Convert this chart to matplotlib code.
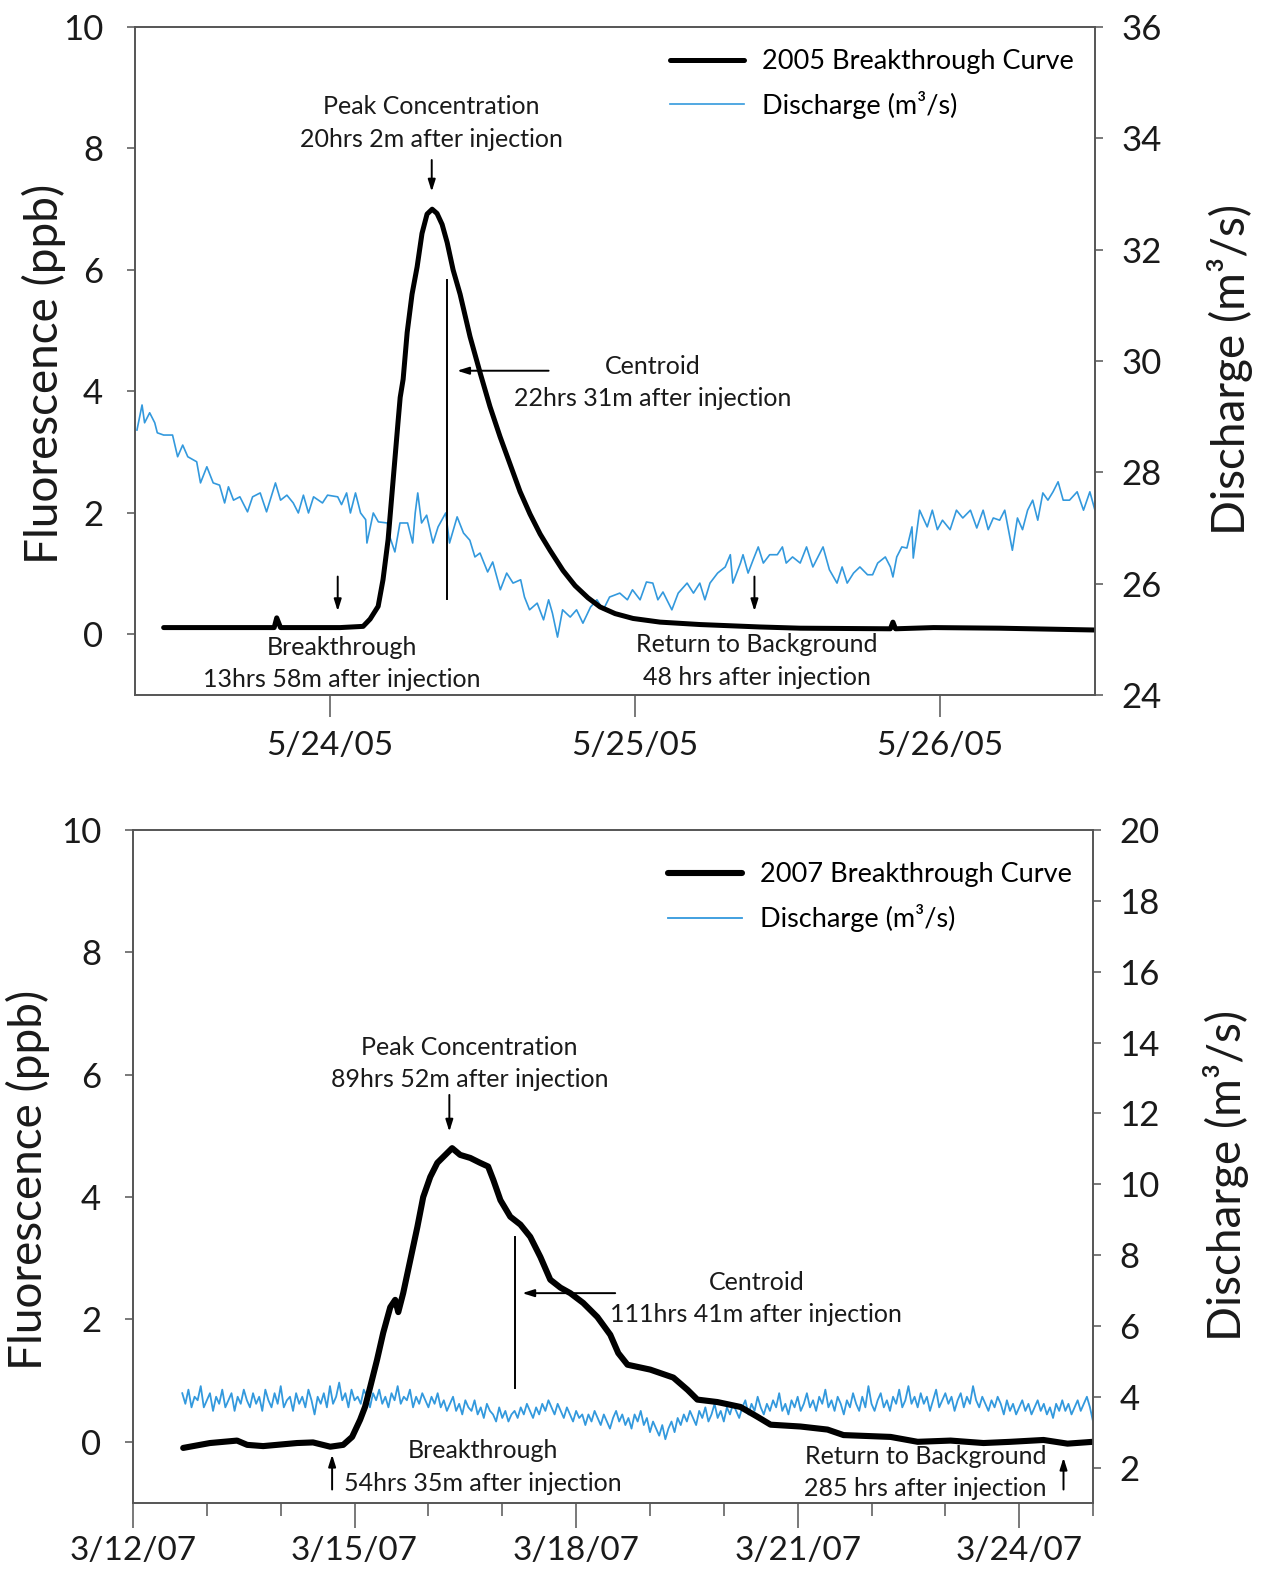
import numpy as np
import matplotlib
matplotlib.use("Agg")
import matplotlib.pyplot as plt

plt.rcParams['font.family'] = ['Lato', 'DejaVu Sans']

# ---------------- 2005 test (hours after 5/23/05 00:00) ----------------
bt05_hours = [10.9, 17.7, 19.6, 19.8, 20.1, 21.6, 24.8, 26.6, 27.15, 27.78, 28.17, 28.57,
              28.96, 29.35, 29.51, 29.75, 30.06, 30.45, 30.85, 31.24, 31.63, 32.03, 32.42,
              32.82, 33.21, 33.68, 34.23, 35.02, 35.81, 36.59, 37.38, 38.17, 38.95, 39.74,
              40.53, 41.32, 42.34, 43.28, 44.30, 45.25, 46.43, 47.85, 49.97, 53.12, 57.84,
              60.99, 68.1, 68.3, 68.5, 71.5, 76.7, 84.2]
bt05_ppb = [0.11, 0.11, 0.11, 0.27, 0.11, 0.11, 0.11, 0.13, 0.25, 0.46, 0.9, 1.56,
            2.55, 3.5, 3.9, 4.2, 4.97, 5.6, 6.05, 6.6, 6.92, 7.0, 6.93,
            6.75, 6.45, 6.0, 5.6, 4.9, 4.3, 3.75, 3.25, 2.8, 2.35, 1.98,
            1.65, 1.38, 1.05, 0.8, 0.6, 0.45, 0.34, 0.26, 0.2, 0.16, 0.12,
            0.1, 0.09, 0.2, 0.09, 0.11, 0.1, 0.07]

q05_hours = [8.8, 9.2, 9.4, 9.8, 10.2, 10.4, 10.9, 11.6, 12.0, 12.4, 12.8, 13.5,
             13.8, 14.3, 14.8, 15.3, 15.7, 16.0, 16.4, 16.9, 17.5, 17.9, 18.5, 19.0,
             19.7, 20.1, 20.6, 21.1, 21.5, 21.9, 22.3, 22.7, 23.4, 23.8, 24.6, 24.9,
             25.3, 25.6, 26.0, 26.4, 26.8, 26.9, 27.4, 27.8, 28.5, 28.7, 29.1, 29.5,
             30.1, 30.5, 30.7, 30.9, 31.2, 31.6, 32.1, 32.5, 33.1, 33.4, 34.0, 34.5,
             35.0, 35.4, 35.8, 36.4, 36.8, 37.4, 37.9, 38.4, 39.0, 39.3, 39.7, 40.3,
             40.8, 41.2, 41.5, 41.9, 42.3, 42.9, 43.4, 43.9, 44.5, 45.0, 45.5, 46.0,
             46.8, 47.4, 47.8, 48.4, 48.9, 49.4, 49.8, 50.2, 50.9, 51.4, 52.1, 52.6,
             53.1, 53.5, 53.9, 54.5, 55.1, 55.5, 55.7, 56.3, 56.5, 56.9, 57.3, 57.7,
             58.1, 58.6, 59.2, 59.6, 59.9, 60.4, 61.0, 61.5, 62.0, 62.8, 63.3, 63.9,
             64.3, 64.7, 65.2, 65.7, 66.3, 66.7, 67.1, 67.7, 68.1, 68.3, 68.6, 69.0,
             69.4, 69.8, 69.9, 70.4, 71.0, 71.4, 71.8, 72.2, 72.8, 73.3, 73.8, 74.4,
             74.9, 75.4, 75.8, 76.2, 76.7, 77.1, 77.7, 78.1, 78.5, 78.9, 79.3, 79.7,
             80.1, 80.5, 80.9, 81.3, 81.7, 82.2, 82.8, 83.3, 83.8, 84.2]
q05_cms = [28.76, 29.21, 28.89, 29.07, 28.89, 28.71, 28.67, 28.67, 28.28, 28.49, 28.28, 28.19,
           27.81, 28.10, 27.81, 27.77, 27.45, 27.74, 27.50, 27.56, 27.29, 27.56, 27.63, 27.29,
           27.81, 27.50, 27.59, 27.45, 27.27, 27.59, 27.27, 27.56, 27.45, 27.59, 27.56, 27.42,
           27.63, 27.27, 27.63, 27.27, 27.15, 26.73, 27.27, 27.11, 27.09, 26.84, 26.57, 27.09,
           27.09, 26.73, 27.27, 27.63, 27.09, 27.23, 26.73, 27.02, 27.27, 26.73, 27.20, 26.91,
           26.78, 26.48, 26.55, 26.21, 26.39, 25.89, 26.19, 26.01, 26.07, 25.76, 25.53, 25.65,
           25.35, 25.71, 25.47, 25.04, 25.53, 25.40, 25.53, 25.29, 25.58, 25.71, 25.53, 25.76,
           25.83, 25.71, 25.89, 25.71, 26.03, 26.01, 25.71, 25.85, 25.53, 25.83, 26.01, 25.83,
           26.01, 25.71, 26.01, 26.19, 26.30, 26.52, 26.01, 26.37, 26.52, 26.19, 26.43, 26.66,
           26.37, 26.52, 26.52, 26.66, 26.37, 26.48, 26.37, 26.66, 26.30, 26.66, 26.25, 26.01,
           26.30, 26.01, 26.19, 26.30, 26.16, 26.16, 26.37, 26.48, 26.30, 26.12, 26.48, 26.66,
           26.64, 27.02, 26.46, 27.32, 27.02, 27.32, 26.97, 27.14, 26.97, 27.32, 27.18, 27.32,
           27.00, 27.32, 26.97, 27.18, 27.14, 27.32, 26.60, 27.18, 26.97, 27.32, 27.50, 27.14,
           27.63, 27.50, 27.65, 27.83, 27.50, 27.50, 27.65, 27.32, 27.65, 27.32]

xlabels05 = ['5/24/05', '5/25/05', '5/26/05']

# ---------------- 2007 test (hours after 3/12/07 00:00) ----------------
bt07_hours = [16.3, 25.0, 33.8, 37.1, 42.3, 53.3, 58.5, 64.1, 68.3, 71.2, 73.8, 75.4,
              77.1, 79.3, 81.3, 83.6, 85.2, 86.2, 87.8, 90.1, 92.4, 94.3, 96.6, 98.9,
              101.5, 103.7, 106.3, 109.6, 112.8, 115.4, 117.1, 119.4, 122.6, 125.9, 129.1, 132.4,
              135.6, 138.9, 142.1, 146.3, 150.9, 155.1, 157.7, 160.7, 168.1, 175.6, 180.2, 183.4,
              189.9, 197.4, 202.9, 207.2, 216.9, 225.7, 230.9, 246.2, 255.0, 265.7, 276.4, 285.2,
              295.9, 303.7, 312.0]
bt07_ppb = [-0.1, -0.02, 0.02, -0.05, -0.07, -0.02, -0.01, -0.08, -0.05, 0.08, 0.36, 0.57,
            0.9, 1.34, 1.78, 2.2, 2.32, 2.12, 2.43, 2.97, 3.51, 4.0, 4.33, 4.56,
            4.69, 4.8, 4.69, 4.64, 4.56, 4.5, 4.28, 3.95, 3.68, 3.55, 3.35, 3.02,
            2.65, 2.52, 2.43, 2.27, 2.04, 1.75, 1.45, 1.26, 1.18, 1.05, 0.85, 0.69,
            0.65, 0.57, 0.41, 0.28, 0.25, 0.2, 0.11, 0.08, 0.0, 0.02, -0.02, 0.0,
            0.03, -0.03, 0.0]

q07_start_hour = 16   # hourly readings from 3/12/07 16:00
q07_cms = [4.1, 3.8, 4.2, 3.7, 4.0, 3.9, 4.3, 3.7, 3.9, 4.1, 3.6, 4.0,
           3.8, 4.2, 3.7, 3.9, 4.1, 3.6, 4.0, 3.8, 4.2, 3.9, 3.7, 4.1,
           3.8, 4.0, 3.6, 4.2, 3.9, 3.7, 4.1, 3.8, 4.3, 3.7, 3.9, 4.0,
           3.6, 4.1, 3.8, 4.0, 3.7, 4.2, 3.9, 3.5, 4.0, 3.8, 4.1, 3.7,
           4.3, 3.8, 4.0, 4.4, 3.9, 4.1, 3.7, 4.2, 3.9, 4.0, 3.8, 4.2,
           4.0, 3.7, 4.1, 3.9, 4.2, 3.8, 4.0, 3.7, 4.1, 3.9, 4.3, 3.8,
           4.0, 3.9, 4.2, 3.7, 4.0, 3.8, 4.1, 3.9, 3.7, 4.0, 3.8, 4.1,
           3.7, 3.9, 3.6, 3.8, 4.0, 3.6, 3.8, 3.5, 3.9, 3.7, 3.6, 3.9,
           3.5, 3.7, 3.4, 3.8, 3.6, 3.5, 3.3, 3.7, 3.4, 3.6, 3.3, 3.5,
           3.6, 3.4, 3.7, 3.5, 3.8, 3.6, 3.4, 3.7, 3.5, 3.8, 3.6, 3.9,
           3.7, 3.5, 3.8, 3.6, 3.4, 3.7, 3.5, 3.3, 3.6, 3.4, 3.5, 3.2,
           3.5, 3.3, 3.6, 3.4, 3.2, 3.5, 3.3, 3.1, 3.4, 3.6, 3.3, 3.5,
           3.2, 3.4, 3.1, 3.5, 3.3, 3.6, 3.2, 3.4, 3.0, 3.3, 3.1, 2.9,
           3.2, 2.8, 3.1, 3.3, 3.0, 3.4, 3.2, 3.5, 3.3, 3.6, 3.4, 3.2,
           3.6, 3.4, 3.7, 3.3, 3.5, 3.8, 3.4, 3.6, 3.3, 3.7, 3.5, 3.8,
           3.6, 3.4, 3.7, 3.9, 3.5, 3.8, 3.6, 4.0, 3.7, 3.5, 3.8, 3.6,
           3.9, 3.7, 4.1, 3.6, 3.8, 3.5, 3.9, 3.7, 4.0, 3.6, 3.8, 4.1,
           3.7, 3.9, 3.6, 4.0, 3.8, 4.2, 3.7, 3.9, 3.6, 4.0, 3.8, 3.5,
           3.9, 3.7, 4.1, 3.8, 3.6, 4.0, 3.7, 4.3, 3.8, 3.6, 3.9, 4.1,
           3.7, 3.9, 3.6, 4.0, 3.8, 4.2, 3.7, 3.9, 4.3, 3.8, 4.0, 3.7,
           4.1, 3.8, 4.0, 3.6, 3.9, 4.2, 3.7, 3.9, 4.1, 3.8, 4.0, 3.6,
           3.9, 4.1, 3.7, 4.0, 3.8, 4.3, 3.9, 3.7, 4.0, 3.8, 3.6, 3.9,
           3.7, 4.0, 3.8, 3.5, 3.9, 3.6, 3.8, 3.5, 3.7, 3.9, 3.6, 3.8,
           3.5, 3.7, 3.9, 3.6, 3.8, 3.5, 3.7, 3.4, 3.8, 3.6, 3.9, 3.6,
           3.8, 3.5, 3.7, 3.9, 3.6, 3.8, 4.0, 3.7, 3.3]

xlabels07 = ['3/12/07', '3/15/07', '3/18/07', '3/21/07', '3/24/07']

BLUE = '#3399dd'
TXT = '#1a1a1a'
SPINE = '#555555'
FS = 18


def to_dates(base, hours):
    mins = np.round(np.asarray(hours, dtype=float) * 60).astype(int)
    return np.datetime64(base) + mins.astype('timedelta64[m]')


def t(base, h):
    return to_dates(base, [h])[0]


def style_axes(ax, ax2):
    for a in (ax, ax2):
        for s in a.spines.values():
            s.set_color(SPINE)
            s.set_linewidth(1.2)
    ax.tick_params(axis='y', direction='out', length=6, width=1.1, color=SPINE,
                   labelsize=25, pad=17, labelcolor=TXT)
    ax2.tick_params(axis='y', direction='out', length=6, width=1.1, color=SPINE,
                    labelsize=25, pad=13, labelcolor=TXT)


def arrow(ax, tip, tail):
    ax.annotate('', xy=tip, xytext=tail,
                arrowprops=dict(arrowstyle='-|>,head_length=0.7,head_width=0.22',
                                lw=1.4, color='k', shrinkA=0, shrinkB=0))


def note(ax, x, y, s):
    ax.text(x, y, s, ha='center', va='center', fontsize=FS, linespacing=1.5, color=TXT)


fig = plt.figure(figsize=(12.67, 15.72), dpi=100)

# ======================= top panel (2005) =======================
b05 = '2005-05-23T00:00'
ax = fig.add_axes([0.1066, 0.5579, 0.7576, 0.4249])
ax2 = ax.twinx()
ax.set_zorder(ax2.get_zorder() + 1)
ax.patch.set_visible(False)

l1, = ax.plot(to_dates(b05, bt05_hours), bt05_ppb, color='k', lw=3.6,
              solid_capstyle='round', solid_joinstyle='round')
l2, = ax2.plot(to_dates(b05, q05_hours), q05_cms, color=BLUE, lw=1.2)

ax.set_xlim(t(b05, 8.65), t(b05, 84.2))
ax.set_ylim(-1, 10)
ax.set_yticks([0, 2, 4, 6, 8, 10])
ax2.set_ylim(24, 36)
ax2.set_yticks([24, 26, 28, 30, 32, 34, 36])
ax.set_xticks(to_dates(b05, [24, 48, 72]))
ax.set_xticklabels(xlabels05)
ax.tick_params(axis='x', direction='out', length=16, width=1.1, color=SPINE,
               labelsize=24, pad=10, labelcolor=TXT)
style_axes(ax, ax2)

ax.set_ylabel('Fluorescence (ppb)', fontsize=33, color=TXT)
ax.yaxis.set_label_coords(-0.072, 0.48)
ax2.set_ylabel('Discharge (m³/s)', fontsize=33, color=TXT, rotation=90)
ax2.yaxis.set_label_coords(1.117, 0.487)

ax.legend([l1, l2], ['2005 Breakthrough Curve', 'Discharge (m³/s)'],
          loc='upper right', bbox_to_anchor=(0.978, 0.967), frameon=False,
          fontsize=19.5, handlelength=2.75, handletextpad=0.65, labelspacing=0.62,
          borderpad=0, borderaxespad=0)

note(ax, t(b05, 32.0), 8.42, 'Peak Concentration\n20hrs 2m after injection')
arrow(ax, (t(b05, 32.0), 7.29), (t(b05, 32.0), 7.81))
ax.plot([t(b05, 33.2), t(b05, 33.2)], [0.58, 5.84], color='k', lw=1.4)
arrow(ax, (t(b05, 34.0), 4.34), (t(b05, 41.2), 4.34))
note(ax, t(b05, 49.4), 4.15, 'Centroid\n22hrs 31m after injection')
arrow(ax, (t(b05, 24.6), 0.38), (t(b05, 24.6), 0.95))
note(ax, t(b05, 24.9), -0.48, 'Breakthrough\n13hrs 58m after injection')
arrow(ax, (t(b05, 57.4), 0.38), (t(b05, 57.4), 0.95))
note(ax, t(b05, 57.6), -0.44, 'Return to Background\n48 hrs after injection')

# ======================= bottom panel (2007) =======================
b07 = '2007-03-12T00:00'
bx = fig.add_axes([0.105, 0.0439, 0.7577, 0.4281])
bx2 = bx.twinx()
bx.set_zorder(bx2.get_zorder() + 1)
bx.patch.set_visible(False)

q07_hours = q07_start_hour + np.arange(len(q07_cms))
k1, = bx.plot(to_dates(b07, bt07_hours), bt07_ppb, color='k', lw=4.4,
              solid_capstyle='round', solid_joinstyle='round')
k2, = bx2.plot(to_dates(b07, q07_hours), q07_cms, color=BLUE, lw=1.3)

bx.set_xlim(t(b07, 0), t(b07, 312))
bx.set_ylim(-1, 10)
bx.set_yticks([0, 2, 4, 6, 8, 10])
bx2.set_ylim(1, 20)
bx2.set_yticks([2, 4, 6, 8, 10, 12, 14, 16, 18, 20])
bx.set_xticks(to_dates(b07, [0, 72, 144, 216, 288]))
bx.set_xticklabels(xlabels07)
bx.set_xticks(to_dates(b07, [24 * d for d in range(14)]), minor=True)
bx.tick_params(axis='x', which='major', direction='out', length=18, width=1.1,
               color=SPINE, labelsize=24, pad=6, labelcolor=TXT)
bx.tick_params(axis='x', which='minor', direction='out', length=9, width=1.1,
               color=SPINE)
style_axes(bx, bx2)

bx.set_ylabel('Fluorescence (ppb)', fontsize=33, color=TXT)
bx.yaxis.set_label_coords(-0.086, 0.48)
bx2.set_ylabel('Discharge (m³/s)', fontsize=33, color=TXT, rotation=90)
bx2.yaxis.set_label_coords(1.115, 0.487)

bx.legend([k1, k2], ['2007 Breakthrough Curve', 'Discharge (m³/s)'],
          loc='upper right', bbox_to_anchor=(0.978, 0.952), frameon=False,
          fontsize=19.5, handlelength=2.75, handletextpad=0.65, labelspacing=0.62,
          borderpad=0, borderaxespad=0)

note(bx, t(b07, 109.3), 6.18, 'Peak Concentration\n89hrs 52m after injection')
arrow(bx, (t(b07, 102.8), 5.07), (t(b07, 102.8), 5.67))
bx.plot([t(b07, 124.2), t(b07, 124.2)], [0.88, 3.35], color='k', lw=1.4)
arrow(bx, (t(b07, 126.5), 2.43), (t(b07, 156.7), 2.43))
note(bx, t(b07, 202.6), 2.34, 'Centroid\n111hrs 41m after injection')
arrow(bx, (t(b07, 64.7), -0.21), (t(b07, 64.7), -0.78))
note(bx, t(b07, 113.8), -0.41, 'Breakthrough\n54hrs 35m after injection')
arrow(bx, (t(b07, 302.4), -0.26), (t(b07, 302.4), -0.78))
note(bx, t(b07, 257.6), -0.50, 'Return to Background\n285 hrs after injection')

fig.savefig('out.png', dpi=100)
